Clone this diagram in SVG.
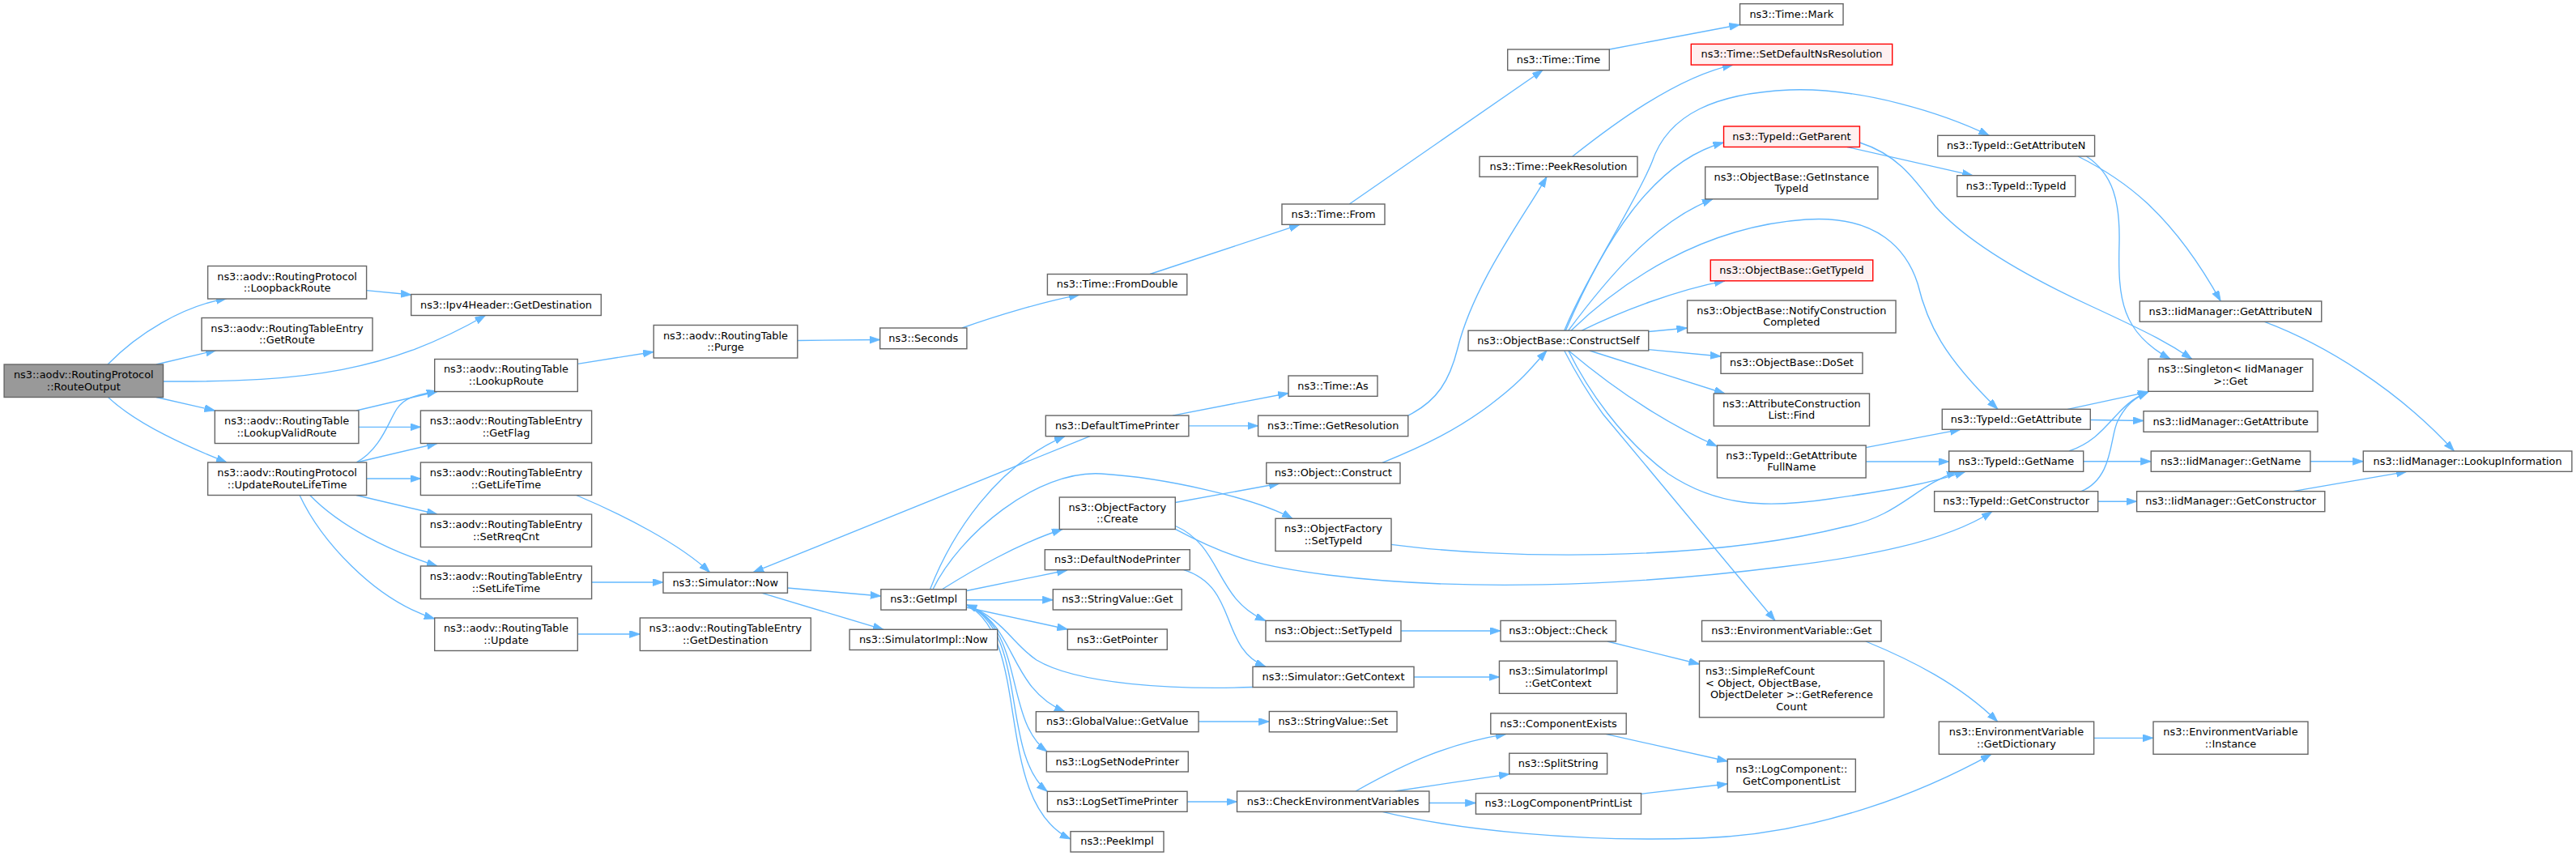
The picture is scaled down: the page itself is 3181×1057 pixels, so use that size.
<svg xmlns="http://www.w3.org/2000/svg" width="3181" height="1057" viewBox="0 0 3181 1057">
<defs>
<marker id="arr" markerUnits="userSpaceOnUse" markerWidth="14" markerHeight="10" refX="13" refY="4.5" orient="auto">
<path d="M0,0 L13,4.5 L0,9 Z" fill="#63b8ff" stroke="#63b8ff" stroke-width="0.8"/>
</marker>
</defs>
<style>
.n rect{fill:#ffffff;stroke:#666666;stroke-width:1.4}
.root rect{fill:#999999;stroke:#666666;stroke-width:1.4}
.red rect{fill:#fff0f0;stroke:#ff0000;stroke-width:1.4}
text{font-family:"DejaVu Sans","Liberation Sans",sans-serif;font-size:12.9px;fill:#000000;text-anchor:middle}
text.l{text-anchor:start}
#edges path{fill:none;stroke:#63b8ff;stroke-width:1.35;marker-end:url(#arr)}
</style>
<rect x="0" y="0" width="3181" height="1057" fill="#ffffff"/>
<g id="edges">
<path d="M133,450 C170,412 225,378 280,368.5"/>
<path d="M193,450 L267,432.5"/>
<path d="M201.5,471 C380,472 480,458 599.5,389.5"/>
<path d="M193,490.5 L265.5,507"/>
<path d="M133.5,490.5 C170,525 235,553 280,571"/>
<path d="M452.6,358.7 L508,364"/>
<path d="M440,507 L540,483.5"/>
<path d="M443,527.3 L519.5,527.3"/>
<path d="M440,571 C470,555 480,520 490,505 S515,488 540,483"/>
<path d="M440,571 L540,547.5"/>
<path d="M452.6,591 L519.5,591"/>
<path d="M440,611.5 L540,635"/>
<path d="M382.7,611.5 C420,650 480,680 540,699"/>
<path d="M370,611.5 C395,665 460,740 536.7,764"/>
<path d="M713.3,449.3 L807,434.5"/>
<path d="M711.7,611.5 C770,636 840,672 876.5,706.7"/>
<path d="M730.6,719 L819,719"/>
<path d="M713.3,783 L790.3,783"/>
<path d="M984.8,420.5 L1086.7,419.5"/>
<path d="M1188,405 C1230,390 1290,372 1333,364.1"/>
<path d="M1420,338.5 L1605,277.3"/>
<path d="M1666.3,252 L1905,86.7"/>
<path d="M1987.3,61 L2148.5,30.5"/>
<path d="M972.4,726 L1087.8,736"/>
<path d="M940.3,732.2 L1091,777.3"/>
<path d="M1346,538.7 L930,706.7"/>
<path d="M1148.5,727.7 C1175,660 1230,575 1315,538.7"/>
<path d="M1448,513.1 L1591,485.5"/>
<path d="M1467.9,525.8 L1553.6,525.8"/>
<path d="M1163.3,727.7 C1200,705 1255,672 1312,653.5"/>
<path d="M1193.4,729.5 L1318,704"/>
<path d="M1193.4,740.7 L1300.3,740.7"/>
<path d="M1193.4,750 L1318.3,777"/>
<path d="M1195,748 C1255,770 1245,850 1315,878.7"/>
<path d="M1195,748 C1265,775 1240,890 1293,928"/>
<path d="M1195,748 C1270,780 1235,930 1293.3,977.3"/>
<path d="M1195,748 C1275,790 1225,990 1322,1036"/>
<path d="M1152,727.7 C1185,660 1280,580 1360,585 S1550,615 1596,640.3"/>
<path d="M1547,848.5 C1450,852 1330,845 1280,815 C1250,795 1240,765 1193.4,746.7"/>
<path d="M1451.3,620.5 L1580,597"/>
<path d="M1451.5,649.5 C1510,675 1500,740 1563,766.4"/>
<path d="M1451.3,653.3 C1520,690 1560,700 1640,710 C1800,730 2000,725 2200,700 C2300,688 2400,670 2460,631.7"/>
<path d="M1461.7,703.7 C1530,725 1505,800 1563,823.3"/>
<path d="M1480,891 L1567.3,891"/>
<path d="M1466,990 L1527.5,990"/>
<path d="M1707,571.4 C1760,550 1800,530 1840,500 S1890,455 1910,433"/>
<path d="M1718,672.3 C1850,690 2100,695 2280,650 C2345,637 2365,600 2417,582.3"/>
<path d="M1730,779 L1853,779"/>
<path d="M1985,792 L2098.5,820"/>
<path d="M1746,836 L1851.5,836"/>
<path d="M1674,977 C1740,940 1790,918 1860,906.4"/>
<path d="M1722.4,977 L1864,955.8"/>
<path d="M1764.8,991.5 L1822.4,991.5"/>
<path d="M1707,1002.4 C1800,1025 1950,1040 2100,1035 C2250,1030 2380,975 2459,931.3"/>
<path d="M1982.7,906.4 L2133.2,940"/>
<path d="M2026.5,980.3 L2133.2,968"/>
<path d="M2304,792 C2360,815 2420,845 2466.7,891.1"/>
<path d="M2585.6,911.3 L2659,911.3"/>
<path d="M1738.8,513.1 C1775,495 1790,470 1800,430 C1820,350 1880,270 1910,218.3"/>
<path d="M1941.7,193.3 C1990,155 2070,95 2140,80.1"/>
<path d="M1933.3,408.2 C1980,300 2040,200 2128.5,176"/>
<path d="M1936.7,408.2 C1980,350 2040,275 2115,245.8"/>
<path d="M1931.7,408.2 C1960,340 2020,250 2040,200 C2060,140 2120,115 2210,111 C2300,108 2400,140 2456.5,167.3"/>
<path d="M1940,408.2 C2000,350 2100,280 2230,271 C2320,265 2355,310 2368,350 C2380,400 2400,440 2467,505.3"/>
<path d="M1953.3,408.2 C2000,385 2070,358 2130,346.8"/>
<path d="M2035.7,409.5 L2083.5,405"/>
<path d="M2035.7,431.7 L2125,440"/>
<path d="M1963,433 L2130,486"/>
<path d="M1937,433 C1975,465 2040,515 2120.4,551"/>
<path d="M1931.7,433 Q1955,478 1980,512 L2192,766.4"/>
<path d="M1936.7,433 C1960,480 2000,540 2060,585 C2120,625 2180,628 2260,616 C2330,606 2380,598 2427,582.3"/>
<path d="M2281,181.5 L2436,216.7"/>
<path d="M2296.4,176 C2340,190 2360,215 2390,255 C2430,300 2500,340 2580,377 S2680,425 2706.7,443.3"/>
<path d="M2576.4,193 C2610,215 2618,250 2617,300 C2615,370 2620,410 2680,443.3"/>
<path d="M2566,193 C2620,220 2680,260 2742.2,371.9"/>
<path d="M2795.8,397.2 C2870,425 2960,480 3030.5,557"/>
<path d="M2553.3,505.3 L2653,483.8"/>
<path d="M2581.3,518.5 L2647,519.5"/>
<path d="M2555,557 C2605,540 2610,500 2653,484"/>
<path d="M2572.7,569.7 L2656.3,569.7"/>
<path d="M2570,606.7 C2610,590 2605,540 2615,520 S2635,492 2653,484"/>
<path d="M2590.7,619.2 L2638.6,619.2"/>
<path d="M2853,569.7 L2918.3,569.7"/>
<path d="M2831.5,606.7 L2972,582.3"/>
<path d="M2304,552.7 L2421,530.3"/>
<path d="M2304.1,570 L2406.7,570"/>
</g>
<g id="n1" class="root"><rect x="5.1" y="450" width="196.4" height="40.5"/><text x="103.3" y="467">ns3::aodv::RoutingProtocol</text><text x="103.3" y="481.5">::RouteOutput</text></g>
<g id="n2" class="n"><rect x="256.6" y="328.5" width="196" height="40.5"/><text x="354.6" y="345.5">ns3::aodv::RoutingProtocol</text><text x="354.6" y="360">::LoopbackRoute</text></g>
<g id="n3" class="n"><rect x="249" y="392.5" width="211" height="40.5"/><text x="354.5" y="409.5">ns3::aodv::RoutingTableEntry</text><text x="354.5" y="424">::GetRoute</text></g>
<g id="n4" class="n"><rect x="265.3" y="507" width="177.6" height="40.5"/><text x="354.1" y="524">ns3::aodv::RoutingTable</text><text x="354.1" y="538.5">::LookupValidRoute</text></g>
<g id="n5" class="n"><rect x="256.6" y="571" width="196" height="40.5"/><text x="354.6" y="588">ns3::aodv::RoutingProtocol</text><text x="354.6" y="602.5">::UpdateRouteLifeTime</text></g>
<g id="n6" class="n"><rect x="507.7" y="363.5" width="234.6" height="26"/><text x="625" y="380.5">ns3::Ipv4Header::GetDestination</text></g>
<g id="n7" class="n"><rect x="536.7" y="443.5" width="176.6" height="40"/><text x="625" y="460.3">ns3::aodv::RoutingTable</text><text x="625" y="474.8">::LookupRoute</text></g>
<g id="n8" class="n"><rect x="519.4" y="507" width="211.2" height="40.5"/><text x="625" y="524">ns3::aodv::RoutingTableEntry</text><text x="625" y="538.5">::GetFlag</text></g>
<g id="n9" class="n"><rect x="519.4" y="571" width="211.2" height="40.5"/><text x="625" y="588">ns3::aodv::RoutingTableEntry</text><text x="625" y="602.5">::GetLifeTime</text></g>
<g id="n10" class="n"><rect x="519.4" y="635" width="211.2" height="40.5"/><text x="625" y="652">ns3::aodv::RoutingTableEntry</text><text x="625" y="666.5">::SetRreqCnt</text></g>
<g id="n11" class="n"><rect x="519.4" y="699" width="211.2" height="40.5"/><text x="625" y="716">ns3::aodv::RoutingTableEntry</text><text x="625" y="730.5">::SetLifeTime</text></g>
<g id="n12" class="n"><rect x="536.7" y="763" width="176.6" height="40.5"/><text x="625" y="780">ns3::aodv::RoutingTable</text><text x="625" y="794.5">::Update</text></g>
<g id="n13" class="n"><rect x="807.2" y="401.5" width="177.6" height="40.5"/><text x="896" y="418.5">ns3::aodv::RoutingTable</text><text x="896" y="433">::Purge</text></g>
<g id="n14" class="n"><rect x="818.95" y="706.7" width="153.5" height="25.5"/><text x="895.7" y="723.5">ns3::Simulator::Now</text></g>
<g id="n15" class="n"><rect x="790.3" y="763" width="211" height="40.5"/><text x="895.8" y="780">ns3::aodv::RoutingTableEntry</text><text x="895.8" y="794.5">::GetDestination</text></g>
<g id="n16" class="n"><rect x="1086.7" y="405" width="107.2" height="25.7"/><text x="1140.3" y="421.9">ns3::Seconds</text></g>
<g id="n17" class="n"><rect x="1087.85" y="727.7" width="105.5" height="25.4"/><text x="1140.6" y="744.4">ns3::GetImpl</text></g>
<g id="n18" class="n"><rect x="1049.1" y="777.3" width="182.6" height="25.2"/><text x="1140.4" y="793.9">ns3::SimulatorImpl::Now</text></g>
<g id="n19" class="n"><rect x="1293.4" y="338.5" width="172.4" height="25.6"/><text x="1379.6" y="355.3">ns3::Time::FromDouble</text></g>
<g id="n20" class="n"><rect x="1291.3" y="513.1" width="176.6" height="25.6"/><text x="1379.6" y="529.9">ns3::DefaultTimePrinter</text></g>
<g id="n21" class="n"><rect x="1308.3" y="614" width="143" height="39.5"/><text x="1379.8" y="630.5">ns3::ObjectFactory</text><text x="1379.8" y="645">::Create</text></g>
<g id="n22" class="n"><rect x="1290.3" y="678.7" width="179" height="25"/><text x="1379.8" y="695.2">ns3::DefaultNodePrinter</text></g>
<g id="n23" class="n"><rect x="1300.3" y="727.7" width="159" height="25.3"/><text x="1379.8" y="744.3">ns3::StringValue::Get</text></g>
<g id="n24" class="n"><rect x="1318.3" y="777" width="123" height="25.3"/><text x="1379.8" y="793.7">ns3::GetPointer</text></g>
<g id="n25" class="n"><rect x="1279.35" y="878.7" width="200.7" height="25"/><text x="1379.7" y="895.2">ns3::GlobalValue::GetValue</text></g>
<g id="n26" class="n"><rect x="1292.3" y="928" width="175" height="25"/><text x="1379.8" y="944.5">ns3::LogSetNodePrinter</text></g>
<g id="n27" class="n"><rect x="1293.35" y="977.3" width="172.7" height="25"/><text x="1379.7" y="993.8">ns3::LogSetTimePrinter</text></g>
<g id="n28" class="n"><rect x="1322" y="1026.7" width="115" height="25.3"/><text x="1379.5" y="1043.4">ns3::PeekImpl</text></g>
<g id="n29" class="n"><rect x="1583" y="252" width="127" height="25.3"/><text x="1646.5" y="268.7">ns3::Time::From</text></g>
<g id="n30" class="n"><rect x="1591" y="464" width="110" height="25.3"/><text x="1646" y="480.7">ns3::Time::As</text></g>
<g id="n31" class="n"><rect x="1553.6" y="513.1" width="185.2" height="25.6"/><text x="1646.2" y="529.9">ns3::Time::GetResolution</text></g>
<g id="n32" class="n"><rect x="1563.8" y="571.4" width="165.2" height="25.6"/><text x="1646.4" y="588.2">ns3::Object::Construct</text></g>
<g id="n33" class="n"><rect x="1575" y="640.3" width="143" height="40.2"/><text x="1646.5" y="657.2">ns3::ObjectFactory</text><text x="1646.5" y="671.7">::SetTypeId</text></g>
<g id="n34" class="n"><rect x="1563" y="766.4" width="167" height="25.6"/><text x="1646.5" y="783.2">ns3::Object::SetTypeId</text></g>
<g id="n35" class="n"><rect x="1547" y="823.3" width="199" height="25.3"/><text x="1646.5" y="840">ns3::Simulator::GetContext</text></g>
<g id="n36" class="n"><rect x="1567.35" y="878.5" width="157.7" height="25.3"/><text x="1646.2" y="895.2">ns3::StringValue::Set</text></g>
<g id="n37" class="n"><rect x="1527.55" y="977" width="237.3" height="25.4"/><text x="1646.2" y="993.7">ns3::CheckEnvironmentVariables</text></g>
<g id="n38" class="n"><rect x="1861.7" y="61" width="125.6" height="25.7"/><text x="1924.5" y="77.9">ns3::Time::Time</text></g>
<g id="n39" class="n"><rect x="1827" y="193.3" width="195" height="25"/><text x="1924.5" y="209.8">ns3::Time::PeekResolution</text></g>
<g id="n40" class="n"><rect x="1813.05" y="408.2" width="222.7" height="24.8"/><text x="1924.4" y="424.6">ns3::ObjectBase::ConstructSelf</text></g>
<g id="n41" class="n"><rect x="1853" y="766.4" width="142.4" height="25.6"/><text x="1924.2" y="783.2">ns3::Object::Check</text></g>
<g id="n42" class="n"><rect x="1851.45" y="816.2" width="145.5" height="40.1"/><text x="1924.2" y="833">ns3::SimulatorImpl</text><text x="1924.2" y="847.5">::GetContext</text></g>
<g id="n43" class="n"><rect x="1840.8" y="880.8" width="167.4" height="25.6"/><text x="1924.5" y="897.6">ns3::ComponentExists</text></g>
<g id="n44" class="n"><rect x="1863.75" y="930.2" width="120.9" height="25.6"/><text x="1924.2" y="947">ns3::SplitString</text></g>
<g id="n45" class="n"><rect x="1822.45" y="979.6" width="204.1" height="25.6"/><text x="1924.5" y="996.4">ns3::LogComponentPrintList</text></g>
<g id="n46" class="n"><rect x="2148.55" y="4.7" width="127.5" height="26.1"/><text x="2212.3" y="21.8">ns3::Time::Mark</text></g>
<g id="n47" class="red"><rect x="2088.3" y="54.4" width="248.4" height="25.7"/><text x="2212.5" y="71.3">ns3::Time::SetDefaultNsResolution</text></g>
<g id="n48" class="red"><rect x="2128.55" y="156" width="167.9" height="25.5"/><text x="2212.5" y="172.8">ns3::TypeId::GetParent</text></g>
<g id="n49" class="n"><rect x="2105.7" y="206" width="213.2" height="39.8"/><text x="2212.3" y="222.7">ns3::ObjectBase::GetInstance</text><text x="2212.3" y="237.2">TypeId</text></g>
<g id="n50" class="red"><rect x="2112.25" y="321" width="200.5" height="25.8"/><text x="2212.5" y="337.9">ns3::ObjectBase::GetTypeId</text></g>
<g id="n51" class="n"><rect x="2083.55" y="371" width="257.5" height="40"/><text x="2212.3" y="387.8">ns3::ObjectBase::NotifyConstruction</text><text x="2212.3" y="402.3">Completed</text></g>
<g id="n52" class="n"><rect x="2125" y="435.5" width="175" height="25.8"/><text x="2212.5" y="452.4">ns3::ObjectBase::DoSet</text></g>
<g id="n53" class="n"><rect x="2116.3" y="486" width="192.2" height="40"/><text x="2212.4" y="502.8">ns3::AttributeConstruction</text><text x="2212.4" y="517.3">List::Find</text></g>
<g id="n54" class="n"><rect x="2120.45" y="550" width="183.7" height="40"/><text x="2212.3" y="566.8">ns3::TypeId::GetAttribute</text><text x="2212.3" y="581.3">FullName</text></g>
<g id="n55" class="n"><rect x="2101.55" y="766.4" width="221.5" height="25.6"/><text x="2212.3" y="783.2">ns3::EnvironmentVariable::Get</text></g>
<g id="n56" class="n"><rect x="2098.5" y="816.2" width="228" height="69.6"/><text class="l" x="2106" y="833.3">ns3::SimpleRefCount</text><text class="l" x="2106" y="847.8">&lt; Object, ObjectBase,</text><text x="2212.5" y="862.3">ObjectDeleter &gt;::GetReference</text><text x="2212.5" y="876.8">Count</text></g>
<g id="n57" class="n"><rect x="2133.25" y="937.3" width="158.1" height="40.5"/><text x="2212.3" y="954.3">ns3::LogComponent::</text><text x="2212.3" y="968.8">GetComponentList</text></g>
<g id="n58" class="n"><rect x="2392.8" y="167.3" width="193.8" height="25.7"/><text x="2489.7" y="184.2">ns3::TypeId::GetAttributeN</text></g>
<g id="n59" class="n"><rect x="2416.7" y="216.7" width="146" height="26"/><text x="2489.7" y="233.7">ns3::TypeId::TypeId</text></g>
<g id="n60" class="n"><rect x="2398.3" y="505.3" width="183" height="25"/><text x="2489.8" y="521.8">ns3::TypeId::GetAttribute</text></g>
<g id="n61" class="n"><rect x="2406.7" y="557" width="166" height="25.3"/><text x="2489.7" y="573.7">ns3::TypeId::GetName</text></g>
<g id="n62" class="n"><rect x="2388.7" y="606.7" width="202" height="25"/><text x="2489.7" y="623.2">ns3::TypeId::GetConstructor</text></g>
<g id="n63" class="n"><rect x="2394.35" y="891.1" width="191.3" height="40.2"/><text x="2490" y="908">ns3::EnvironmentVariable</text><text x="2490" y="922.5">::GetDictionary</text></g>
<g id="n64" class="n"><rect x="2642.25" y="371.9" width="224.5" height="25.3"/><text x="2754.5" y="388.6">ns3::IidManager::GetAttributeN</text></g>
<g id="n65" class="n"><rect x="2652.75" y="443.3" width="203.3" height="40"/><text x="2754.4" y="460.1">ns3::Singleton&lt; IidManager</text><text x="2754.4" y="474.6">&gt;::Get</text></g>
<g id="n66" class="n"><rect x="2647" y="507.7" width="215" height="25.6"/><text x="2754.5" y="524.5">ns3::IidManager::GetAttribute</text></g>
<g id="n67" class="n"><rect x="2656.25" y="557" width="196.7" height="25.3"/><text x="2754.6" y="573.7">ns3::IidManager::GetName</text></g>
<g id="n68" class="n"><rect x="2638.6" y="606.7" width="232.2" height="25"/><text x="2754.7" y="623.2">ns3::IidManager::GetConstructor</text></g>
<g id="n69" class="n"><rect x="2659" y="891.1" width="191" height="40.2"/><text x="2754.5" y="908">ns3::EnvironmentVariable</text><text x="2754.5" y="922.5">::Instance</text></g>
<g id="n70" class="n"><rect x="2918.3" y="557" width="257.6" height="25.3"/><text x="3047.1" y="573.7">ns3::IidManager::LookupInformation</text></g>
</svg>
